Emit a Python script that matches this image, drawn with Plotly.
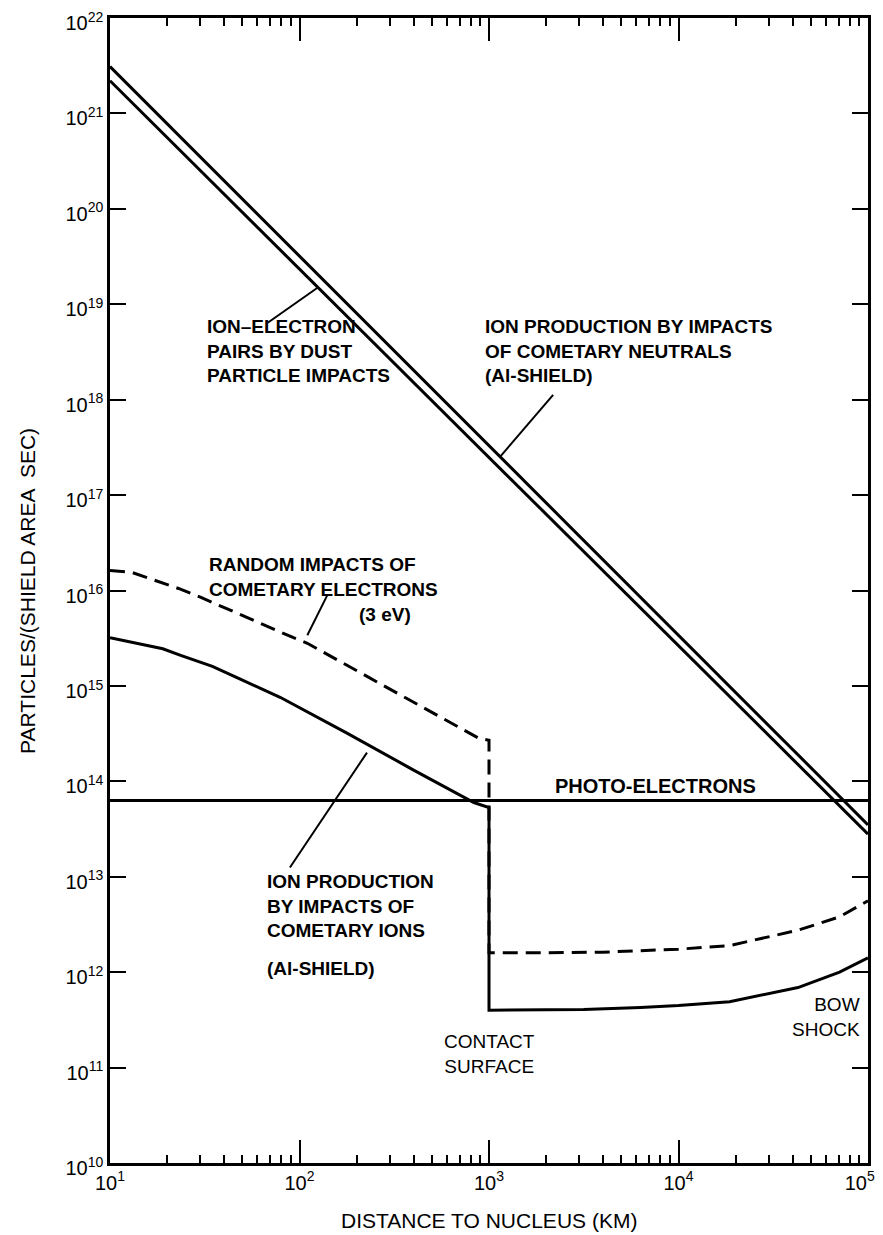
import plotly.graph_objects as go

# ---------------- data ----------------
x_tick_vals = [10, 100, 1000, 10000, 100000]
x_tick_text = ["10<sup>1</sup>", "10<sup>2</sup>", "10<sup>3</sup>", "10<sup>4</sup>",
               "10<sup>5</sup>\u00a0\u00a0\u00a0"]
y_tick_vals = [1e10, 1e11, 1e12, 1e13, 1e14, 1e15, 1e16, 1e17, 1e18, 1e19, 1e20, 1e21, 1e22]
y_tick_text = ["10<sup>10</sup>", "10<sup>11</sup>", "10<sup>12</sup>", "10<sup>13</sup>",
               "10<sup>14</sup>", "10<sup>15</sup>", "10<sup>16</sup>", "10<sup>17</sup>",
               "10<sup>18</sup>", "10<sup>19</sup>", "10<sup>20</sup>", "10<sup>21</sup>",
               "10<sup>22</sup>"]
x_minor_vals = [m * d for d in (10, 100, 1000, 10000) for m in range(2, 10)]

# dust-particle / neutral-impact double line
dust_x = [10, 100000]
dust_upper_y = [3.1e21, 3.5e13]
dust_lower_y = [2.2e21, 2.8e13]

# photo-electrons
photo_x = [10, 100000]
photo_y = [6.3e13, 6.3e13]

# ion production by cometary ions (solid)
ion_x = [10, 19, 23.4, 34.7, 50, 79, 178, 398, 832, 1000, 1000, 3162, 6310, 10000, 18600, 42700, 70800, 100000]
ion_y = [3.2e15, 2.45e15, 2.1e15, 1.6e15, 1.15e15, 7.6e14, 3.2e14, 1.32e14, 6.0e13, 5.3e13,
         4.0e11, 4.07e11, 4.27e11, 4.47e11, 4.9e11, 6.9e11, 1.0e12, 1.41e12]

# random impacts of cometary electrons (dashed)
el_x = [10, 13, 23, 30, 93, 110, 263, 891, 1000, 1000, 2000, 4000, 10000, 18600, 42700, 70800, 100000]
el_y = [1.62e16, 1.55e16, 1.05e16, 8.5e15, 3.2e15, 2.8e15, 1.07e15, 2.8e14, 2.7e14,
        1.6e12, 1.6e12, 1.62e12, 1.74e12, 1.9e12, 2.75e12, 3.8e12, 5.6e12]

# leader lines (x pair, y pair) in data units
leaders = [
    ([68, 125], [6.4e18, 1.5e19]),       # ion-electron pairs
    ([2180, 1140], [1.12e18, 2.5e17]),   # neutrals
    ([140, 110], [8.9e15, 3.4e15]),      # random electrons
    ([227, 89], [2.0e14, 1.25e13]),      # cometary ions
]

FONT = "Liberation Sans, Arial, Helvetica, sans-serif"

fig = go.Figure()
line_style = dict(color="black", width=3)
fig.add_trace(go.Scatter(x=dust_x, y=dust_upper_y, mode="lines", line=line_style))
fig.add_trace(go.Scatter(x=dust_x, y=dust_lower_y, mode="lines", line=line_style))
fig.add_trace(go.Scatter(x=photo_x, y=photo_y, mode="lines", line=line_style))
fig.add_trace(go.Scatter(x=ion_x, y=ion_y, mode="lines", line=line_style))
fig.add_trace(go.Scatter(x=el_x, y=el_y, mode="lines",
                         line=dict(color="black", width=3, dash="15px,8px")))
for lx, ly in leaders:
    fig.add_trace(go.Scatter(x=lx, y=ly, mode="lines", line=dict(color="black", width=2)))
# invisible trace to activate the top axis
fig.add_trace(go.Scatter(x=photo_x, y=photo_y, mode="lines", xaxis="x2",
                         line=dict(color="rgba(0,0,0,0)", width=0), hoverinfo="skip"))

def lbl(x, y, text, bold=True, xanchor="left", yanchor="top", align="left", size=19):
    fig.add_annotation(x=x, y=y, xref="x", yref="y", text=("<b>%s</b>" % text) if bold else text,
                       showarrow=False, xanchor=xanchor, yanchor=yanchor, align=align,
                       font=dict(family=FONT, size=size, color="black"))

lbl(1.50, 18.90, "ION–ELECTRON<br>PAIRS BY DUST<br>PARTICLE IMPACTS")
lbl(2.97, 18.90, "ION PRODUCTION BY IMPACTS<br>OF COMETARY NEUTRALS<br>(Al-SHIELD)")
lbl(1.51, 16.40, "RANDOM IMPACTS OF<br>COMETARY ELECTRONS")
lbl(2.45, 15.75, "(3 eV)", xanchor="center", yanchor="middle")
lbl(1.82, 13.08, "ION PRODUCTION<br>BY IMPACTS OF<br>COMETARY IONS")
lbl(1.82, 12.04, "(Al-SHIELD)", yanchor="middle")
lbl(3.34, 13.95, "PHOTO-ELECTRONS", yanchor="middle", size=20)
lbl(3.0, 11.40, "CONTACT<br>SURFACE", bold=False, xanchor="center", align="center")
lbl(4.97, 11.79, "BOW<br>SHOCK", bold=False, xanchor="right", align="right")

# axis titles
fig.add_annotation(x=-0.109, y=0.5, xref="paper", yref="paper", text="PARTICLES/(SHIELD AREA  SEC)",
                   textangle=-90, showarrow=False, xanchor="center", yanchor="middle",
                   font=dict(family=FONT, size=21, color="black"))
fig.add_annotation(x=0.5, y=-0.05, xref="paper", yref="paper", text="DISTANCE TO NUCLEUS (KM)",
                   showarrow=False, xanchor="center", yanchor="middle",
                   font=dict(family=FONT, size=21, color="black"))

minor_ticks = dict(tickmode="array", tickvals=x_minor_vals, ticks="inside",
                   ticklen=8, tickwidth=2, tickcolor="black", showgrid=False)
fig.update_layout(
    xaxis=dict(type="log", range=[1, 5], tickvals=x_tick_vals, ticktext=x_tick_text,
               ticks="inside", ticklen=23, tickwidth=2, tickcolor="black",
               showline=True, linewidth=2.5, linecolor="black", mirror=True,
               showgrid=False, zeroline=False, automargin=False, ticklabeloverflow="allow",
               tickfont=dict(family=FONT, size=20, color="black"), minor=minor_ticks),
    xaxis2=dict(type="log", range=[1, 5], overlaying="x", side="top", anchor="y",
                tickvals=x_tick_vals, showticklabels=False,
                ticks="inside", ticklen=23, tickwidth=2, tickcolor="black",
                showline=False, showgrid=False, zeroline=False, automargin=False,
                minor=minor_ticks),
    yaxis=dict(type="log", range=[10, 22], tickvals=y_tick_vals, ticktext=y_tick_text,
               ticks="inside", ticklen=16, tickwidth=2, tickcolor="black",
               showline=True, linewidth=2.5, linecolor="black", mirror="ticks",
               showgrid=False, zeroline=False, automargin=False, ticklabeloverflow="allow",
               ticklabelshift=5,
               tickfont=dict(family=FONT, size=20, color="black")),
    width=875, height=1227, showlegend=False,
    paper_bgcolor="white", plot_bgcolor="white",
    margin=dict(l=102, r=15, t=10, b=72),
)

fig.write_html("out.html")
